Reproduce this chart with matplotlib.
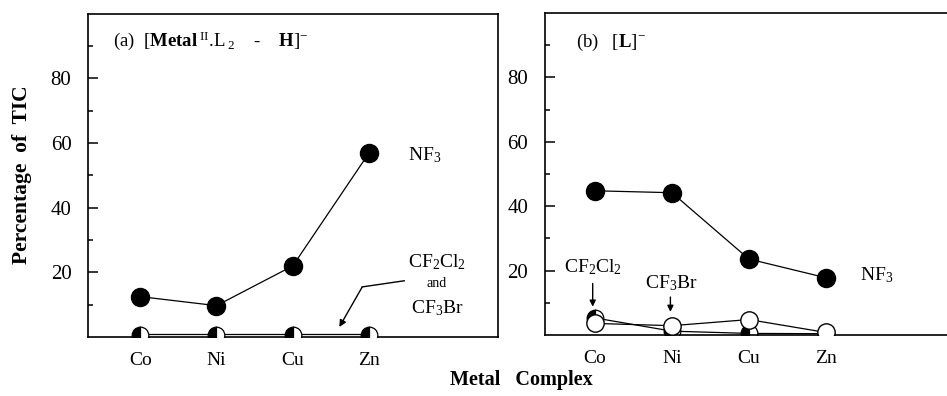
import matplotlib.pyplot as plt

plt.rcParams["font.family"] = ["Liberation Serif", "DejaVu Serif"]
plt.rcParams["mathtext.fontset"] = "custom"
plt.rcParams["mathtext.rm"] = "Liberation Serif"
plt.rcParams["mathtext.it"] = "Liberation Serif:italic"
plt.rcParams["mathtext.bf"] = "Liberation Serif:bold"

metals = ["Co", "Ni", "Cu", "Zn"]
xpos = [1, 2, 3, 4]

# (a) [Metal(II).L2 - H]-
a_nf3 = [12.5, 9.7, 22.0, 57.0]
a_cf2cl2 = [1.0, 1.0, 1.0, 1.0]
a_cf3br = [0.5, 0.5, 0.5, 0.5]

# (b) [L]-
b_nf3 = [44.8, 44.2, 23.6, 17.8]
b_cf2cl2 = [5.3, 1.2, 0.5, 0.4]
b_cf3br = [3.6, 2.9, 4.8, 0.8]

fig = plt.figure(figsize=(9.47, 3.96), dpi=100)
ax_a = fig.add_axes([0.093, 0.149, 0.433, 0.816])
ax_b = fig.add_axes([0.5755, 0.154, 0.433, 0.813])


def style(ax, xlim):
    ax.set_xlim(*xlim)
    ax.set_ylim(0, 100)
    ax.set_yticks([20, 40, 60, 80])
    ax.set_yticks([10, 30, 50, 70, 90], minor=True)
    ax.set_xticks(xpos)
    ax.set_xticklabels(metals)
    ax.tick_params(axis="y", which="major", direction="in", length=7, width=1.1,
                   labelsize=15, pad=12)
    ax.tick_params(axis="y", which="minor", direction="in", length=3.5, width=1.1)
    ax.tick_params(axis="x", length=0, labelsize=14, pad=11)
    for sp in ax.spines.values():
        sp.set_linewidth(1.2)


# ---- panel a ----
ax = ax_a
style(ax, (0.318, 5.69))
ax.plot(xpos, a_cf2cl2, color="black", lw=0.9, zorder=2)
ax.plot(xpos, a_cf3br, "o", ms=12, fillstyle="left", markerfacecolor="black",
        markerfacecoloralt="white", markeredgecolor="black", mew=0.9, zorder=3)
ax.plot(xpos, a_nf3, "-o", color="black", lw=0.9, ms=13, zorder=4)

ax.text(0.65, 90, r"(a)  [$\mathbf{Metal}^{\rm\ II}$.L$_{\ 2}$    -    $\mathbf{H}$]$^{-}$",
        fontsize=13.5, va="baseline", ha="left")
ax.text(4.51, 56.4, r"NF$_3$", fontsize=14, va="center", ha="left")
ax.text(4.89, 23.3, r"CF$_2$Cl$_2$", fontsize=14, va="center", ha="center")
ax.text(4.89, 16.7, "and", fontsize=10, va="center", ha="center")
ax.text(4.89, 9.0, r"CF$_3$Br", fontsize=14, va="center", ha="center")
ax.plot([4.46, 3.91], [17.4, 15.5], color="black", lw=1.0)
ax.annotate("", xy=(3.61, 3.1), xytext=(3.91, 15.5),
            arrowprops=dict(arrowstyle="-|>", color="black", lw=1.0,
                            mutation_scale=10, shrinkA=0, shrinkB=0))

# ---- panel b ----
ax = ax_b
style(ax, (0.35, 5.68))
ax.plot(xpos, b_cf2cl2, "-o", color="black", lw=0.9, ms=12, fillstyle="left",
        markerfacecolor="black", markerfacecoloralt="white",
        markeredgecolor="black", mew=0.9, zorder=2)
ax.plot(xpos, b_cf3br, "-o", color="black", lw=0.9, ms=12.5,
        markerfacecolor="white", markeredgecolor="black", mew=1.0, zorder=3)
ax.plot(xpos, b_nf3, "-o", color="black", lw=0.9, ms=13, zorder=4)

ax.text(0.75, 89.4, r"(b)   [$\mathbf{L}$]$^{-}$", fontsize=13.5,
        va="baseline", ha="left")
ax.text(4.44, 18.6, r"NF$_3$", fontsize=14, va="center", ha="left")
ax.text(0.97, 21.1, r"CF$_2$Cl$_2$", fontsize=14, va="center", ha="center")
ax.annotate("", xy=(0.97, 8.8), xytext=(0.97, 16.0),
            arrowprops=dict(arrowstyle="-|>", color="black", lw=1.0,
                            mutation_scale=9, shrinkA=0, shrinkB=0))
ax.text(1.99, 16.1, r"CF$_3$Br", fontsize=14, va="center", ha="center")
ax.annotate("", xy=(1.98, 7.2), xytext=(1.98, 11.8),
            arrowprops=dict(arrowstyle="-|>", color="black", lw=1.0,
                            mutation_scale=9, shrinkA=0, shrinkB=0))

fig.text(0.023, 0.56, "Percentage  of  TIC", rotation=90, fontsize=15.5,
         fontweight="bold", ha="center", va="center")
fig.text(0.551, 0.040, "Metal   Complex", fontsize=14.5, fontweight="bold",
         ha="center", va="center")

fig.savefig("out.png", dpi=100)
